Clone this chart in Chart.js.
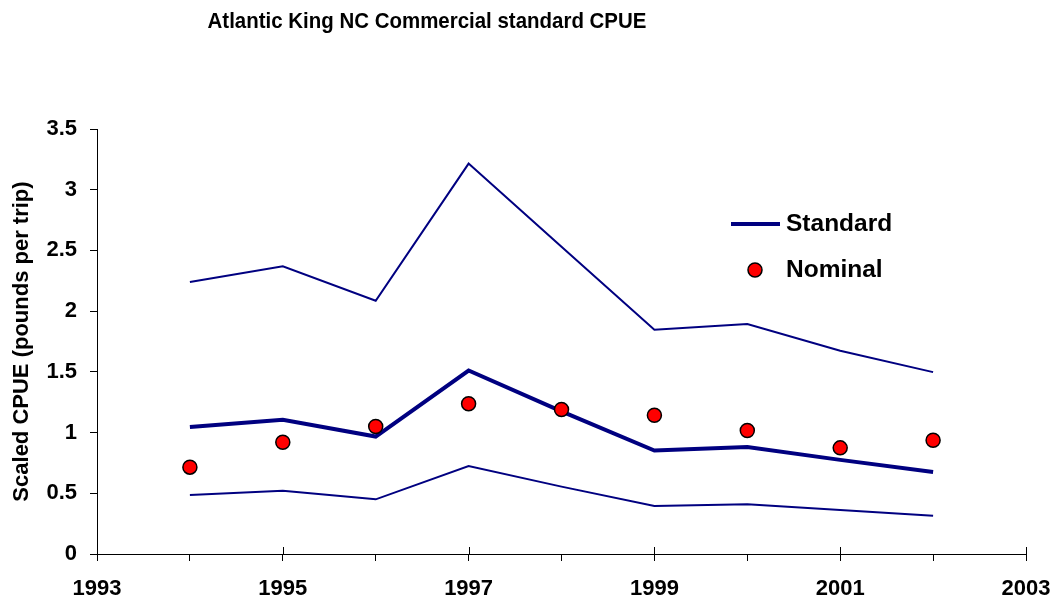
<!DOCTYPE html>
<html>
<head>
<meta charset="utf-8">
<script src="https://cdn.jsdelivr.net/npm/chart.js@4"></script>
<style>
  body { margin: 0; background: #fff; }
  #wrap { width: 1057px; height: 603px; position: relative; }
</style>
</head>
<body>
<div id="wrap"><canvas id="cpueChart"></canvas></div>
<script>
const years = [1994, 1995, 1996, 1997, 1998, 1999, 2000, 2001, 2002];
const standard = [1.045, 1.105, 0.967, 1.511, 1.175, 0.852, 0.882, 0.775, 0.676];
const upper = [2.24, 2.37, 2.086, 3.215, 2.53, 1.847, 1.894, 1.674, 1.498];
const lower = [0.486, 0.52, 0.45, 0.725, 0.555, 0.396, 0.41, 0.363, 0.316];
const nominal = [0.715, 0.92, 1.05, 1.237, 1.19, 1.143, 1.017, 0.874, 0.937];
const yTicks = [0, 0.5, 1, 1.5, 2, 2.5, 3, 3.5];
const xLabelYears = [1993, 1995, 1997, 1999, 2001, 2003];

const TITLE = 'Atlantic King NC Commercial standard CPUE';
const NAVY = '#000080';
const FONT = "'Liberation Sans', Arial, sans-serif";

const toPoints = arr => arr.map((v, i) => ({ x: years[i], y: v }));

// title sits left of centre in the original (and is a bit narrow), so draw it by hand
const leftTitle = {
    id: 'leftTitle',
    afterDraw(chart) {
        const ctx = chart.ctx;
        ctx.save();
        ctx.translate(427, 22);
        ctx.scale(0.93, 1);
        ctx.fillStyle = '#000';
        ctx.font = 'bold 22px ' + FONT;
        ctx.textAlign = 'center';
        ctx.textBaseline = 'middle';
        ctx.fillText(TITLE, 0, 0);
        ctx.restore();
    }
};

// major x ticks cross the axis line, minor ones only hang below
const crossTicks = {
    id: 'crossTicks',
    afterDraw(chart) {
        const ctx = chart.ctx;
        const xs = chart.scales.x;
        const yBottom = chart.chartArea.bottom;
        ctx.save();
        ctx.strokeStyle = '#000';
        ctx.lineWidth = 1;
        xLabelYears.forEach(yr => {
            const px = Math.round(xs.getPixelForValue(yr)) + 0.5;
            ctx.beginPath();
            ctx.moveTo(px, yBottom - 7);
            ctx.lineTo(px, yBottom);
            ctx.stroke();
        });
        ctx.restore();
    }
};

// legend drawn inside the plot area like the original
const innerLegend = {
    id: 'innerLegend',
    afterDraw(chart) {
        const ctx = chart.ctx;
        const area = chart.chartArea;
        const x0 = area.left + 634;
        const y0 = area.top + 95;
        ctx.save();
        ctx.strokeStyle = NAVY;
        ctx.lineWidth = 4;
        ctx.beginPath();
        ctx.moveTo(x0, y0);
        ctx.lineTo(x0 + 49, y0);
        ctx.stroke();

        ctx.fillStyle = 'red';
        ctx.strokeStyle = '#000';
        ctx.lineWidth = 1.5;
        ctx.beginPath();
        ctx.arc(x0 + 24, y0 + 46, 7, 0, Math.PI * 2);
        ctx.fill();
        ctx.stroke();

        ctx.fillStyle = '#000';
        ctx.font = 'bold 24.5px ' + FONT;
        ctx.textBaseline = 'middle';
        ctx.textAlign = 'left';
        ctx.fillText('Standard', x0 + 55, y0);
        ctx.fillText('Nominal', x0 + 55, y0 + 46);
        ctx.restore();
    }
};

new Chart(document.getElementById('cpueChart'), {
    type: 'line',
    data: {
        datasets: [
            {
                label: 'Nominal',
                data: toPoints(nominal),
                showLine: false,
                pointRadius: 7,
                pointBackgroundColor: 'red',
                pointBorderColor: '#000',
                pointBorderWidth: 1.5,
                order: 0
            },
            {
                label: 'Standard',
                data: toPoints(standard),
                borderColor: NAVY,
                borderWidth: 4,
                pointRadius: 0,
                tension: 0,
                order: 1
            },
            {
                label: 'Upper',
                data: toPoints(upper),
                borderColor: NAVY,
                borderWidth: 2,
                pointRadius: 0,
                tension: 0,
                order: 2
            },
            {
                label: 'Lower',
                data: toPoints(lower),
                borderColor: NAVY,
                borderWidth: 2,
                pointRadius: 0,
                tension: 0,
                order: 2
            }
        ]
    },
    options: {
        responsive: true,
        maintainAspectRatio: false,
        animation: false,
        layout: { padding: { left: 0, right: 31, top: 129, bottom: 0 } },
        plugins: {
            legend: { display: false },
            tooltip: { enabled: false },
            title: { display: false }
        },
        scales: {
            x: {
                type: 'linear',
                min: 1993,
                max: 2003,
                afterFit(scale) {
                    scale.height = 49;
                    scale.paddingLeft = 0;
                    scale.paddingRight = 0;
                },
                afterBuildTicks(scale) {
                    scale.ticks = [];
                    for (let v = 1993; v <= 2003; v++) scale.ticks.push({ value: v });
                },
                ticks: {
                    autoSkip: false,
                    maxRotation: 0,
                    padding: 15,
                    color: '#000',
                    font: { family: FONT, size: 22, weight: 'bold' },
                    callback: v => xLabelYears.includes(v) ? String(v) : ''
                },
                grid: {
                    drawOnChartArea: false,
                    drawTicks: true,
                    tickLength: 7,
                    tickColor: '#000'
                },
                border: { display: true, color: '#000', width: 1 }
            },
            y: {
                min: 0,
                max: 3.5,
                afterFit(scale) { scale.width = 97; },
                afterBuildTicks(scale) {
                    scale.ticks = yTicks.map(v => ({ value: v }));
                },
                ticks: {
                    padding: 13,
                    color: '#000',
                    font: { family: FONT, size: 22, weight: 'bold' },
                    callback: v => String(v)
                },
                grid: {
                    drawOnChartArea: false,
                    drawTicks: true,
                    tickLength: 7,
                    tickColor: '#000'
                },
                border: { display: true, color: '#000', width: 1 },
                title: {
                    display: true,
                    text: 'Scaled CPUE (pounds per trip)',
                    color: '#000',
                    font: { family: FONT, size: 22, weight: 'bold' },
                    padding: { top: 9, bottom: 0 }
                }
            }
        }
    },
    plugins: [leftTitle, crossTicks, innerLegend]
});
</script>
</body>
</html>
